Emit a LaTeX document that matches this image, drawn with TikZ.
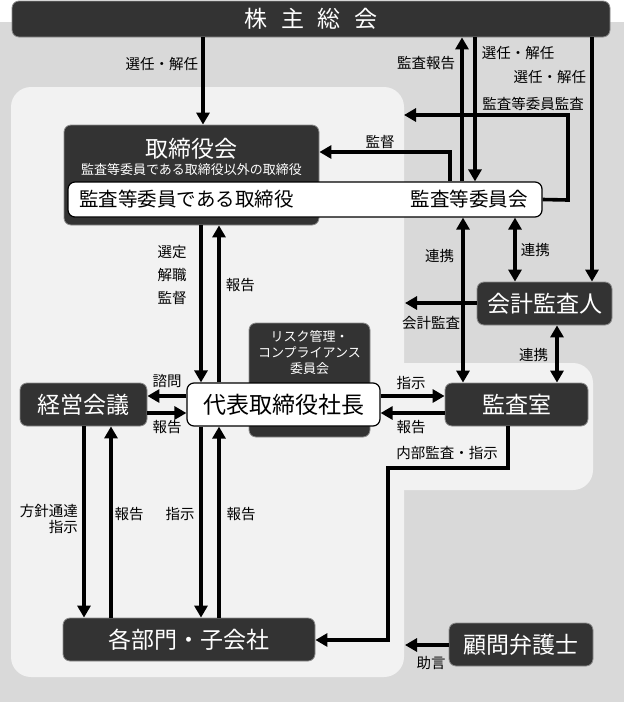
\documentclass[tikz,border=0pt]{standalone}
\usepackage{fontspec}
\setmainfont{Noto Sans CJK JP}
\usepackage{tikz}
\usetikzlibrary{arrows.meta}
\definecolor{bggray}{HTML}{D9D9D9}
\definecolor{panelgray}{HTML}{F2F2F2}
\definecolor{boxfill}{HTML}{333333}
\definecolor{boxedge}{HTML}{8C8C8C}
\newcommand\fbig{\fontsize{23}{25}\selectfont}
\newcommand\fmid{\fontsize{19.5}{22}\selectfont}
\newcommand\fsub{\fontsize{13}{16}\selectfont}
\newcommand\flbl{\fontsize{14.5}{17}\selectfont}
\tikzset{
    %Define standard arrow tip
    >={Triangle[length=12pt,width=13pt]},
    %Define style for boxes
    darkbox/.style={
           rectangle,
           rounded corners=7pt,
           draw=boxedge, line width=0.8pt,
           fill=boxfill,
           text=white,
           font=\fbig,
           inner sep=0pt},
    whitebox/.style={
           rectangle,
           rounded corners=7pt,
           draw=black, line width=1.2pt,
           fill=white,
           font=\fbig,
           inner sep=0pt},
    boxtext/.style={
           inner sep=0pt,
           text=white},
    lbl/.style={
           font=\flbl,
           inner sep=2pt},
    % Define arrow style
    pil/.style={
           ->,
           line width=3.6pt},
    dpil/.style={
           <->,
           line width=3.6pt},
    seg/.style={
           line width=3.6pt}
}
\begin{document}
\begin{tikzpicture}[x=1pt,y=-1pt]
\useasboundingbox (0,0) rectangle (624,702);
% backgrounds
\fill[bggray] (0,22) rectangle (624,702);
\fill[panelgray, rounded corners=20pt] (11,87) rectangle (404,677);
\fill[panelgray, rounded corners=20pt] (380,363) rectangle (593,490);

% boxes
\node[darkbox, minimum width=255, minimum height=100] (torishimari) at (191.5,175) {};
\node[boxtext, font=\fbig] (torititle) at (191.5,149) {取締役会};
\node[boxtext, font=\fsub] (torisub) at (191.5,170) {監査等委員である取締役以外の取締役};
\node[darkbox, minimum width=121, minimum height=114] (risk) at (309.5,380) {};
\node[boxtext, font=\fsub, align=center] (risktext) at (309.5,353) {リスク管理・\\コンプライアンス\\委員会};
\node[whitebox, minimum width=474, minimum height=35] (iinkai) at (305,199.5) {};
\node[inner sep=0pt, font=\fmid, anchor=west] (iintori) at (79,199.5) {監査等委員である取締役};
\node[inner sep=0pt, font=\fmid] (iinkaikai) at (469,199.5) {監査等委員会};

\node[darkbox, minimum width=598, minimum height=36] (kabunushi) at (311,19) {株\hspace{0.6em}主\hspace{0.6em}総\hspace{0.6em}会};
\node[whitebox, minimum width=193, minimum height=43] (shacho) at (283.5,404.5) {代表取締役社長};
\node[darkbox, minimum width=127, minimum height=43] (keiei) at (83.5,404.5) {経営会議};
\node[darkbox, minimum width=143, minimum height=43] (kansashitsu) at (516.5,404.5) {監査室};
\node[darkbox, minimum width=135, minimum height=43] (kaikei) at (544.5,303.5) {会計監査人};
\node[darkbox, minimum width=252, minimum height=43] (bumon) at (189,639.5) {各部門・子会社};
\node[darkbox, minimum width=144, minimum height=43] (komon) at (521,644.5) {顧問弁護士};

\coordinate (kansaend) at (404,115);
\coordinate (kaikeiend) at (405,303);
\coordinate (komonend) at (405,645);

% shareholders
\draw[pil] (kabunushi.south -| 203,0) -- node[lbl,left=1pt,pos=0.3] (l1) {選任・解任} (torishimari.north -| 203,0);
\draw[pil] (iinkai.north -| 462,0) -- node[lbl,left=3pt,pos=0.82] (l2) {監査報告} (kabunushi.south -| 462,0);
\draw[pil] (kabunushi.south -| 475,0) -- node[lbl,right=3pt,pos=0.11] (l3) {選任・解任} (iinkai.north -| 475,0);
\draw[pil] (kabunushi.south -| 592,0) -- node[lbl,left=2pt,pos=0.163] (l4) {選任・解任} (kaikei.north -| 592,0);
\draw[pil] (iinkai.east) -- (568,200) -- (568,115) -- (kansaend);
\node[lbl] (l5) at (533,104) {監査等委員監査};
\draw[pil] (iinkai.north -| 450,0) -- (450,152) -- (torishimari.east |- 0,152);
\node[lbl] (l6) at (380,142) {監督};

% board and president
\draw[pil] (torishimari.south -| 201,0) -- (shacho.north -| 201,0);
\node[lbl, font=\fontsize{14.5}{23}\selectfont, align=center] (l7) at (172,275) {選定\\解職\\監督};
\draw[pil] (shacho.north -| 219,0) -- node[lbl,right=3pt,pos=0.62] (l8) {報告} (torishimari.south -| 219,0);
\draw[pil] (shacho.west |- 0,396) -- (keiei.east |- 0,396);
\node[lbl] (l9) at (167,381) {諮問};
\draw[pil] (keiei.east |- 0,413) -- (shacho.west |- 0,413);
\node[lbl] (l10) at (167,427) {報告};
\draw[pil] (shacho.east |- 0,396) -- (kansashitsu.west |- 0,396);
\node[lbl] (l11) at (411,383) {指示};
\draw[pil] (kansashitsu.west |- 0,413) -- (shacho.east |- 0,413);
\node[lbl] (l12) at (411,427) {報告};

% audit links
\draw[dpil] (iinkai.south -| 463,0) -- node[lbl,left=5pt,pos=0.23] (l13) {連携} (kansashitsu.north -| 463,0);
\draw[dpil] (iinkai.south -| 515,0) -- node[lbl,right=2pt,pos=0.5] (l14) {連携} (kaikei.north -| 515,0);
\draw[dpil] (kaikei.south -| 557,0) -- node[lbl,left=5pt,pos=0.52] (l15) {連携} (kansashitsu.north -| 557,0);
\draw[pil] (kaikei.west |- kaikeiend) -- (kaikeiend);
\node[lbl] (l16) at (431,323) {会計監査};
\draw[pil] (kansashitsu.south -| 508,0) -- (508,468) -- (388,468) -- (388,640) -- (bumon.east |- 0,640);
\node[lbl] (l17) at (447,453) {内部監査・指示};

% departments
\draw[pil] (keiei.south -| 84,0) -- (bumon.north -| 84,0);
\node[lbl, font=\fontsize{14.5}{16}\selectfont, align=right, anchor=east] (l18) at (80,519) {方針通達\\指示};
\draw[pil] (bumon.north -| 111,0) -- (keiei.south -| 111,0);
\node[lbl] (l19) at (129,514) {報告};
\draw[pil] (shacho.south -| 201,0) -- (bumon.north -| 201,0);
\node[lbl] (l20) at (180,514) {指示};
\draw[pil] (bumon.north -| 219,0) -- (shacho.south -| 219,0);
\node[lbl] (l21) at (241,514) {報告};
\draw[pil] (komon.west |- komonend) -- (komonend);
\node[lbl] (l22) at (431,663) {助言};
\end{tikzpicture}
\end{document}
